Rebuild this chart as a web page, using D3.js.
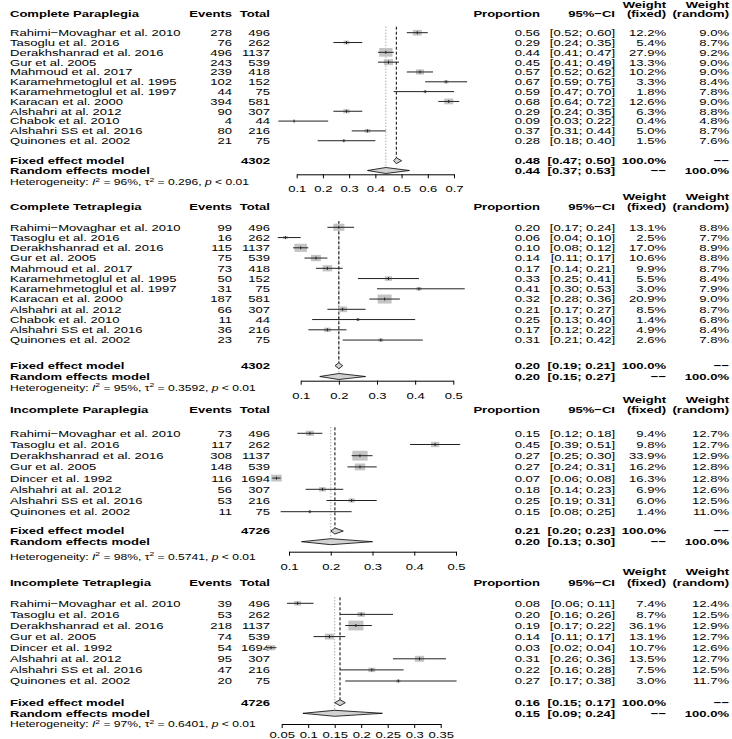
<!DOCTYPE html>
<html>
<head>
<meta charset="utf-8">
<script src="https://cdn.jsdelivr.net/npm/d3@7"></script>
<style>
  body { margin: 0; background: #fff; }
  text { font-family: "Liberation Sans", Arial, Helvetica, sans-serif; fill: #000; }
</style>
</head>
<body>
<div id="chart"></div>
<script>
"use strict"

// ---- data ----
var names1 = ["Rahimi\u2212Movaghar et al. 2010","Tasoglu et al. 2016","Derakhshanrad et al. 2016","Gur et al. 2005",
  "Mahmoud et al. 2017","Karamehmetoglul et al. 1995","Karamehmetoglul et al. 1997","Karacan et al. 2000",
  "Alshahri at al. 2012","Chabok  et al. 2010","Alshahri SS et al. 2016","Quinones et al. 2002"];
var names3 = ["Rahimi\u2212Movaghar et al. 2010","Tasoglu et al. 2016","Derakhshanrad et al. 2016","Gur et al. 2005",
  "Dincer et al. 1992","Alshahri at al. 2012","Alshahri SS et al. 2016","Quinones et al. 2002"];

var events1 = [278,76,496,243,239,102,44,394,90,4,80,21];
var totals1 = [496,262,1137,539,418,152,75,581,307,44,216,75];
var prop1   = [0.56,0.29,0.44,0.45,0.57,0.67,0.59,0.68,0.29,0.09,0.37,0.28];
var lower1  = [0.52,0.24,0.41,0.41,0.52,0.59,0.47,0.64,0.24,0.03,0.31,0.18];
var upper1  = [0.60,0.35,0.47,0.49,0.62,0.75,0.70,0.72,0.35,0.22,0.44,0.40];
var wFixed1 = [12.2,5.4,27.9,13.3,10.2,3.3,1.8,12.6,6.3,0.4,5.0,1.5];
var wRand1  = [9.0,8.7,9.2,9.0,9.0,8.4,7.8,9.0,8.8,4.8,8.7,7.6];
var fixed1 = [0.48,0.47,0.50], random1 = [0.44,0.37,0.53], het1 = ["96%","0.296"];
var ticks1 = [0.1,0.2,0.3,0.4,0.5,0.6,0.7];

var events2 = [99,16,115,75,73,50,31,187,66,11,36,23];
var totals2 = [496,262,1137,539,418,152,75,581,307,44,216,75];
var prop2   = [0.20,0.06,0.10,0.14,0.17,0.33,0.41,0.32,0.21,0.25,0.17,0.31];
var lower2  = [0.17,0.04,0.08,0.11,0.14,0.25,0.30,0.28,0.17,0.13,0.12,0.21];
var upper2  = [0.24,0.10,0.12,0.17,0.21,0.41,0.53,0.36,0.27,0.40,0.22,0.42];
var wFixed2 = [13.1,2.5,17.0,10.6,9.9,5.5,3.0,20.9,8.5,1.4,4.9,2.6];
var wRand2  = [8.8,7.7,8.9,8.8,8.7,8.4,7.9,9.0,8.7,6.8,8.4,7.8];
var fixed2 = [0.20,0.19,0.21], random2 = [0.20,0.15,0.27], het2 = ["95%","0.3592"];
var ticks2 = [0.1,0.2,0.3,0.4,0.5];

var events3 = [73,117,308,148,116,56,53,11];
var totals3 = [496,262,1137,539,1694,307,216,75];
var prop3   = [0.15,0.45,0.27,0.27,0.07,0.18,0.25,0.15];
var lower3  = [0.12,0.39,0.25,0.24,0.06,0.14,0.19,0.08];
var upper3  = [0.18,0.51,0.30,0.31,0.08,0.23,0.31,0.25];
var wFixed3 = [9.4,9.8,33.9,16.2,16.3,6.9,6.0,1.4];
var wRand3  = [12.7,12.7,12.9,12.8,12.8,12.6,12.5,11.0];
var fixed3 = [0.21,0.20,0.23], random3 = [0.20,0.13,0.30], het3 = ["98%","0.5741"];
var ticks3 = [0.1,0.2,0.3,0.4,0.5];

var events4 = [39,53,218,74,54,95,47,20];
var totals4 = [496,262,1137,539,1694,307,216,75];
var prop4   = [0.08,0.20,0.19,0.14,0.03,0.31,0.22,0.27];
var lower4  = [0.06,0.16,0.17,0.11,0.02,0.26,0.16,0.17];
var upper4  = [0.11,0.26,0.22,0.17,0.04,0.36,0.28,0.38];
var wFixed4 = [7.4,8.7,36.1,13.1,10.7,13.5,7.5,3.0];
var wRand4  = [12.4,12.5,12.9,12.7,12.6,12.7,12.5,11.7];
var fixed4 = [0.16,0.15,0.17], random4 = [0.15,0.09,0.24], het4 = ["97%","0.6401"];
var ticks4 = [0.05,0.1,0.15,0.2,0.25,0.3,0.35];

var panels = [
  {title:"Complete Paraplegia", names:names1, events:events1, totals:totals1, prop:prop1, lo:lower1, hi:upper1,
   wf:wFixed1, wr:wRand1, fixed:fixed1, random:random1, het:het1, ticks:ticks1,
   L:{wY:4.5, hY:14, r0:32.7, step:9.82, fY:160.7, rY:170.5, hetY:182, axY:174.3, tkY:189, x0:296.7, x1:454}},
  {title:"Complete Tetraplegia", names:names1, events:events2, totals:totals2, prop:prop2, lo:lower2, hi:upper2,
   wf:wFixed2, wr:wRand2, fixed:fixed2, random:random2, het:het2, ticks:ticks2,
   L:{wY:196.7, hY:206.7, r0:227.3, step:10.25, fY:365.7, rY:376.5, hetY:387.7, axY:380.7, tkY:396, x0:300.7, x1:453.3}},
  {title:"Incomplete Paraplegia", names:names3, events:events3, totals:totals3, prop:prop3, lo:lower3, hi:upper3,
   wf:wFixed3, wr:wRand3, fixed:fixed3, random:random3, het:het3, ticks:ticks3,
   L:{wY:399.3, hY:410, r0:433.3, step:11.2, fY:531, rY:541.7, hetY:556.5, axY:551.7, tkY:566.5, x0:289, x1:456}},
  {title:"Incomplete Tetraplegia", names:names3, events:events4, totals:totals4, prop:prop4, lo:lower4, hi:upper4,
   wf:wFixed4, wr:wRand4, fixed:fixed4, random:random4, het:het4, ticks:ticks4,
   L:{wY:571.7, hY:582.3, r0:603.3, step:11.1, fY:702.7, rY:713.3, hetY:724, axY:724, tkY:735, x0:281.7, x1:440.7}}
];

// the original plot was squeezed vertically, so text and boxes are stretched sideways
var SX = 1.36, BOX_SX = 1.55, FS = 9.6, FS_HET = 8.9;
var colX = {name:10, events:232, total:270, prop:540, ci:615, wf:666, wr:729};
var DASHES = "\u2212\u2212";

var svg = d3.select("#chart").append("svg")
  .attr("width", 732).attr("height", 739);

function label(g, x, y, s, anchor, bold, size){
  return g.append("text")
    .attr("transform", "translate(" + x + "," + (y + 3.4) + ") scale(" + SX + ",1)")
    .attr("text-anchor", anchor || "start")
    .style("font-size", (size || FS) + "px")
    .style("font-weight", bold ? "bold" : "normal")
    .text(s);
}

function f2(v){ return v.toFixed(2); }
function ciText(lo, hi){ return "[" + f2(lo) + "; " + f2(hi) + "]"; }

panels.forEach(function(p){
  var L = p.L;
  var g = svg.append("g");
  var x = d3.scaleLinear()
    .domain([p.ticks[0], p.ticks[p.ticks.length - 1]])
    .range([L.x0, L.x1]);
  var rowY = function(i){ return L.r0 + i * L.step; };

  // headers
  label(g, colX.wf, L.wY, "Weight", "end", true);
  label(g, colX.wr, L.wY, "Weight", "end", true);
  label(g, colX.name, L.hY, p.title, "start", true);
  label(g, colX.events, L.hY, "Events", "end", true);
  label(g, colX.total, L.hY, "Total", "end", true);
  label(g, colX.prop, L.hY, "Proportion", "end", true);
  label(g, colX.ci, L.hY, "95%\u2212CI", "end", true);
  label(g, colX.wf, L.hY, "(fixed)", "end", true);
  label(g, colX.wr, L.hY, "(random)", "end", true);

  // reference lines
  var topY = L.r0 - 6;
  g.append("line")
    .attr("x1", x(p.random[0])).attr("x2", x(p.random[0]))
    .attr("y1", topY).attr("y2", L.rY - 3)
    .attr("stroke", "#888").attr("stroke-width", 1).attr("stroke-dasharray", "1,2");
  g.append("line")
    .attr("x1", x(p.fixed[0])).attr("x2", x(p.fixed[0]))
    .attr("y1", topY).attr("y2", L.fY - 3)
    .attr("stroke", "#000").attr("stroke-width", 1).attr("stroke-dasharray", "3,2");

  // studies
  var wmax = d3.max(p.wf);
  var boxH = 0.88 * L.step;
  p.names.forEach(function(nm, i){
    var y = rowY(i);
    label(g, colX.name, y, nm, "start");
    label(g, colX.events, y, String(p.events[i]), "end");
    label(g, colX.total, y, String(p.totals[i]), "end");
    label(g, colX.prop, y, f2(p.prop[i]), "end");
    label(g, colX.ci, y, ciText(p.lo[i], p.hi[i]), "end");
    label(g, colX.wf, y, p.wf[i].toFixed(1) + "%", "end");
    label(g, colX.wr, y, p.wr[i].toFixed(1) + "%", "end");

    var h = boxH * Math.sqrt(p.wf[i] / wmax), w = h * BOX_SX;
    var cx = x(p.prop[i]);
    g.append("rect")
      .attr("x", cx - w / 2).attr("y", y - h / 2)
      .attr("width", w).attr("height", h)
      .attr("fill", "#c4c4c4");
    g.append("line")
      .attr("x1", x(p.lo[i])).attr("x2", x(p.hi[i]))
      .attr("y1", y).attr("y2", y)
      .attr("stroke", "#222").attr("stroke-width", 1);
    g.append("line")
      .attr("x1", cx).attr("x2", cx)
      .attr("y1", y - 1.5).attr("y2", y + 1.5)
      .attr("stroke", "#222").attr("stroke-width", 1);
  });

  // pooled rows
  var sumTot = d3.sum(p.totals);
  label(g, colX.name, L.fY, "Fixed effect model", "start", true);
  label(g, colX.total, L.fY, String(sumTot), "end", true);
  label(g, colX.prop, L.fY, f2(p.fixed[0]), "end", true);
  label(g, colX.ci, L.fY, ciText(p.fixed[1], p.fixed[2]), "end", true);
  label(g, colX.wf, L.fY, "100.0%", "end", true);
  label(g, colX.wr, L.fY, DASHES, "end", true);

  label(g, colX.name, L.rY, "Random effects model", "start", true);
  label(g, colX.prop, L.rY, f2(p.random[0]), "end", true);
  label(g, colX.ci, L.rY, ciText(p.random[1], p.random[2]), "end", true);
  label(g, colX.wf, L.rY, DASHES, "end", true);
  label(g, colX.wr, L.rY, "100.0%", "end", true);

  var diamond = function(est, y){
    var d = "M" + x(est[1]) + "," + y + "L" + x(est[0]) + "," + (y - 3) +
            "L" + x(est[2]) + "," + y + "L" + x(est[0]) + "," + (y + 3) + "Z";
    g.append("path").attr("d", d)
      .attr("fill", "#d2d2d2").attr("stroke", "#000").attr("stroke-width", 0.8);
  };
  diamond(p.fixed, L.fY);
  diamond(p.random, L.rY);

  // heterogeneity
  var ht = g.append("text")
    .attr("transform", "translate(" + colX.name + "," + (L.hetY + 3.2) + ") scale(" + SX + ",1)")
    .style("font-size", FS_HET + "px");
  ht.append("tspan").text("Heterogeneity: ");
  ht.append("tspan").style("font-style", "italic").text("I");
  ht.append("tspan").attr("dy", -3.5).style("font-size", (FS_HET * 0.7) + "px").text("2");
  ht.append("tspan").attr("dy", 3.5).text(" = " + p.het[0] + ", \u03c4");
  ht.append("tspan").attr("dy", -3.5).style("font-size", (FS_HET * 0.7) + "px").text("2");
  ht.append("tspan").attr("dy", 3.5).text(" = " + p.het[1] + ", ");
  ht.append("tspan").style("font-style", "italic").text("p");
  ht.append("tspan").text(" < 0.01");

  // axis
  var ax = g.append("g")
    .attr("transform", "translate(0," + L.axY + ")")
    .call(d3.axisBottom(x).tickValues(p.ticks).tickSize(4).tickSizeOuter(0)
      .tickFormat(function(d){ return String(d); }));
  ax.attr("font-size", null).attr("font-family", null);
  ax.select(".domain").attr("stroke", "#000");
  ax.selectAll(".tick line").attr("stroke", "#000");
  ax.selectAll(".tick text")
    .attr("y", L.tkY - L.axY + 3.4).attr("dy", null)
    .attr("transform", "scale(" + SX + ",1)")
    .style("font-size", FS + "px")
    .attr("fill", "#000");
});
</script>
</body>
</html>
